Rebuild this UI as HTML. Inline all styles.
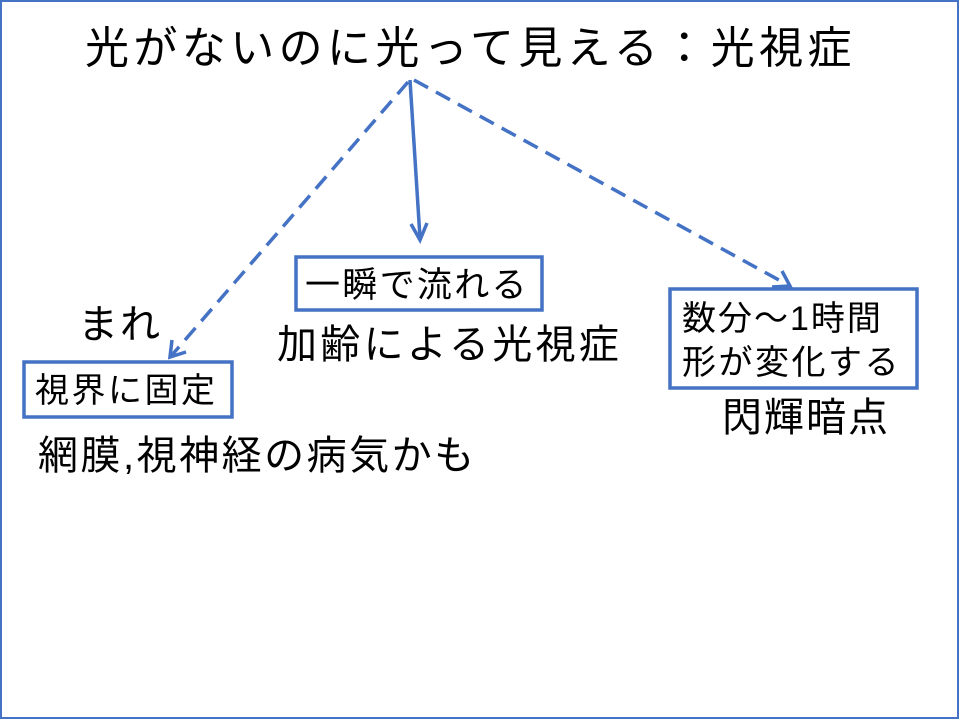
<!DOCTYPE html>
<html><head><meta charset="utf-8"><style>
html,body{margin:0;padding:0;background:#fff}
#p{position:relative;width:960px;height:720px;overflow:hidden;font-family:"Liberation Sans","Noto Sans CJK JP",sans-serif;color:#000}
.t{position:absolute;white-space:nowrap;line-height:1}
svg{position:absolute;left:0;top:0}
</style></head><body><div id="p">
<svg width="960" height="720">
<rect x="1" y="1" width="957" height="717" fill="none" stroke="#4472c4" stroke-width="2"/>
<g stroke="#4472c4" stroke-width="3.5" fill="none">
<line x1="410" y1="80" x2="420" y2="238"/>
<polyline points="411,224 420,240 427,223"/>
<line x1="408" y1="82" x2="172" y2="355" stroke-dasharray="16,9"/>
<polyline points="172,340 170,357 186,352"/>
<line x1="414" y1="80" x2="788" y2="285" stroke-dasharray="16,9"/>
<polyline points="772,287 790,286 782,271"/>
<rect x="296" y="257" width="246" height="53"/>
<rect x="24" y="362" width="208" height="55"/>
<rect x="670" y="289" width="247" height="99"/>
</g>
</svg>
<div class="t" style="left:85px;top:27px;font-size:44px;letter-spacing:4.4px">光がないのに光って見える：光視症</div>
<div class="t" style="left:305px;top:268px;font-size:35px;letter-spacing:2.3px">一瞬で流れる</div>
<div class="t" style="left:277px;top:325px;font-size:40px;letter-spacing:3.3px">加齢による光視症</div>
<div class="t" style="left:78px;top:305px;font-size:40px;letter-spacing:2px">まれ</div>
<div class="t" style="left:35px;top:374px;font-size:34px;letter-spacing:2.5px">視界に固定</div>
<div class="t" style="left:38px;top:436px;font-size:40px;letter-spacing:2.5px">網膜,視神経の病気かも</div>
<div class="t" style="left:682px;top:302px;font-size:34px;letter-spacing:2px">数分～1時間</div>
<div class="t" style="left:682px;top:346px;font-size:34px;letter-spacing:2.5px">形が変化する</div>
<div class="t" style="left:722px;top:398px;font-size:40px;letter-spacing:2px">閃輝暗点</div>
</div></body></html>
